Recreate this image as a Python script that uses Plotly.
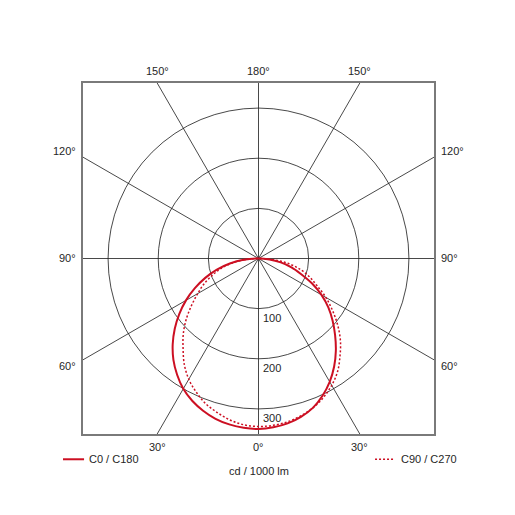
import numpy as np
import plotly.graph_objects as go

# gamma angles (deg from nadir), values in cd / 1000 lm
gamma = [0, 5, 10, 15, 20, 25, 30, 35, 40, 45, 50, 55, 60, 65, 70, 75, 80, 85, 90]
c0 = [340, 338, 334, 327, 317, 302, 284, 263, 240, 216, 193, 170, 145, 118, 90, 68, 45, 22, 0]
c180 = [340, 339, 336, 331, 323, 313, 300, 283, 264, 242, 218, 193, 167, 140, 113, 86, 58, 30, 0]
c90 = [335, 334, 331, 325, 317, 306, 292, 275, 253, 231, 206, 180, 155, 129, 109, 88, 63, 33, 0]
c270 = [335, 333, 327, 318, 308, 294, 278, 258, 234, 212, 188, 163, 140, 120, 98, 78, 55, 28, 0]

rings = [100, 200, 300]
spokes = [0, 30, 60, 90, 120, 150, 180, 210, 240, 270, 300, 330]
rmax = 350

rouge = '#cc0f22'
police = dict(family='Liberation Sans, Arial, sans-serif', size=11, color='#262626')


def courbe(droite, gauche):
    # left half (negative angles) then right half
    ang = [-g for g in gamma[::-1]] + gamma[1:]
    r = list(gauche[::-1]) + list(droite[1:])
    t = np.radians(ang)
    r = np.array(r, dtype=float)
    return r * np.sin(t), -r * np.cos(t)


fig = go.Figure()

# spokes to the frame
for a in spokes:
    t = np.radians(a)
    s, c = np.sin(t), -np.cos(t)
    k = rmax / max(abs(s), abs(c))
    fig.add_trace(go.Scatter(x=[0, k * s], y=[0, k * c], mode='lines',
                             line=dict(color='#1a1a1a', width=0.8),
                             hoverinfo='skip', showlegend=False))

for r in rings:
    fig.add_shape(type='circle', xref='x', yref='y', x0=-r, x1=r, y0=-r, y1=r,
                  line=dict(color='#1a1a1a', width=0.8), layer='below')
    fig.add_annotation(x=0, y=-r, text=str(r), showarrow=False, xanchor='left',
                       yanchor='top', xshift=2, yshift=-1, font=police)

x, y = courbe(c0, c180)
fig.add_trace(go.Scatter(x=x, y=y, mode='lines', line=dict(color=rouge, width=2, shape='spline'),
                         name='C0 / C180', showlegend=False))
x, y = courbe(c90, c270)
fig.add_trace(go.Scatter(x=x, y=y, mode='lines',
                         line=dict(color=rouge, width=1.5, dash='2px,2px', shape='spline'),
                         name='C90 / C270', showlegend=False))

# angle labels around the frame
d = rmax * np.tan(np.radians(30))
for xx, txt in [(-d, '30°'), (0, '0°'), (d, '30°')]:
    fig.add_annotation(x=xx, xref='x', y=0, yref='paper', text=txt, showarrow=False,
                       yanchor='middle', yshift=-13, font=police)
for xx, txt in [(-d, '150°'), (0, '180°'), (d, '150°')]:
    fig.add_annotation(x=xx, xref='x', y=1, yref='paper', text=txt, showarrow=False,
                       yanchor='middle', yshift=12, font=police)
for yy, txt, sh in [(-d, '60°', -6), (0, '90°', 1), (d, '120°', 6)]:
    fig.add_annotation(x=0, xref='paper', y=yy, yref='y', text=txt, showarrow=False,
                       xanchor='right', xshift=-5, yshift=sh, font=police)
    fig.add_annotation(x=1, xref='paper', y=yy, yref='y', text=txt, showarrow=False,
                       xanchor='left', xshift=5, yshift=sh, font=police)

# legend drawn by hand
fig.add_shape(type='line', xref='paper', yref='paper', x0=-0.057, x1=0.003, y0=-0.072, y1=-0.072,
              line=dict(color=rouge, width=2))
fig.add_annotation(x=0.012, y=-0.072, xref='paper', yref='paper', text='C0 / C180', showarrow=False,
                   xanchor='left', yanchor='middle', font=police)
fig.add_shape(type='line', xref='paper', yref='paper', x0=0.832, x1=0.885, y0=-0.072, y1=-0.072,
              line=dict(color=rouge, width=1.5, dash='2px,2px'))
fig.add_annotation(x=0.899, y=-0.072, xref='paper', yref='paper', text='C90 / C270', showarrow=False,
                   xanchor='left', yanchor='middle', font=police)
fig.add_annotation(x=0.5, y=-0.105, xref='paper', yref='paper', text='cd / 1000 lm', showarrow=False,
                   xanchor='center', yanchor='middle', font=police)

fig.update_xaxes(range=[-rmax, rmax], showgrid=False, zeroline=False, showticklabels=False,
                 showline=True, linecolor='#7a7a7a', linewidth=1.5, mirror=True, ticks='')
fig.update_yaxes(range=[-rmax, rmax], showgrid=False, zeroline=False, showticklabels=False,
                 showline=True, linecolor='#7a7a7a', linewidth=1.5, mirror=True, ticks='',
                 scaleanchor='x', scaleratio=1)
# page body adds ~7px, so margins are shifted to keep the frame at 82..433
fig.update_layout(width=515, height=515, margin=dict(l=75, r=89, t=75, b=89),
                  plot_bgcolor='white', paper_bgcolor='white', font=police)

fig.write_html('out.html')
